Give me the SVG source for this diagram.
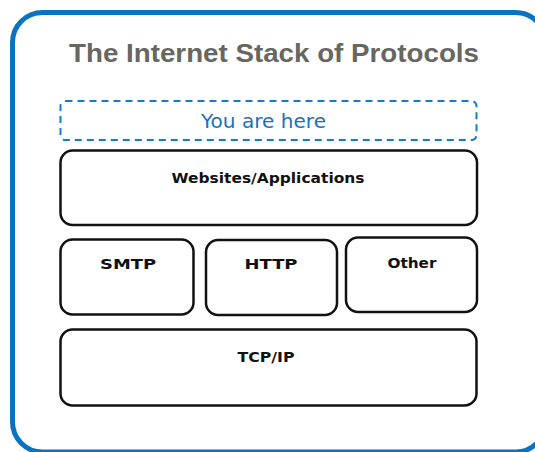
<svg xmlns="http://www.w3.org/2000/svg" width="535" height="452" viewBox="0 0 535 452">
  <style>
    .frame { fill: #ffffff; stroke: #0a72c2; stroke-width: 5; }
    .title { font-family: "Liberation Sans", Arial, sans-serif; font-weight: bold; font-size: 26px; fill: #676762; text-anchor: middle; }
    .here-box { fill: none; stroke: #1b78c8; stroke-width: 2; stroke-dasharray: 7 5; }
    .here { font-family: "DejaVu Sans", sans-serif; font-size: 19px; fill: #1b6fc0; text-anchor: middle; }
    .layer { fill: #ffffff; stroke: #111111; stroke-width: 2.5; }
    .label { font-family: "DejaVu Sans", sans-serif; font-weight: bold; font-size: 14px; fill: #111111; text-anchor: middle; }
  </style>

  <rect x="0" y="0" width="535" height="452" fill="#ffffff"/>
  <!-- outer frame, running past the right and bottom edges -->
  <rect class="frame" x="12.5" y="12.5" width="533" height="439.5" rx="30"/>

  <text class="title" x="274" y="62" textLength="410" lengthAdjust="spacingAndGlyphs">The Internet Stack of Protocols</text>

  <g id="you-are-here">
    <rect class="here-box" x="60.5" y="101" width="416" height="39" rx="5"/>
    <text class="here" x="263.5" y="128" textLength="125" lengthAdjust="spacingAndGlyphs">You are here</text>
  </g>

  <g id="applications">
    <rect class="layer" x="60.5" y="150.5" width="416.5" height="74.5" rx="12"/>
    <text class="label" x="268" y="183" textLength="193" lengthAdjust="spacingAndGlyphs">Websites/Applications</text>
  </g>

  <g id="smtp">
    <rect class="layer" x="60.5" y="239.5" width="133" height="75" rx="12"/>
    <text class="label" x="128" y="269" textLength="56" lengthAdjust="spacingAndGlyphs">SMTP</text>
  </g>

  <g id="http">
    <rect class="layer" x="206" y="240" width="131" height="75" rx="12"/>
    <text class="label" x="271" y="269" textLength="53" lengthAdjust="spacingAndGlyphs">HTTP</text>
  </g>

  <g id="other">
    <rect class="layer" x="346" y="237.5" width="131" height="74.5" rx="12"/>
    <text class="label" x="412" y="268" textLength="49" lengthAdjust="spacingAndGlyphs">Other</text>
  </g>

  <g id="tcp-ip">
    <rect class="layer" x="60.5" y="329.5" width="416" height="76" rx="12"/>
    <text class="label" x="266" y="361.5" textLength="57" lengthAdjust="spacingAndGlyphs">TCP/IP</text>
  </g>

  <g id="connectors"></g>
</svg>
